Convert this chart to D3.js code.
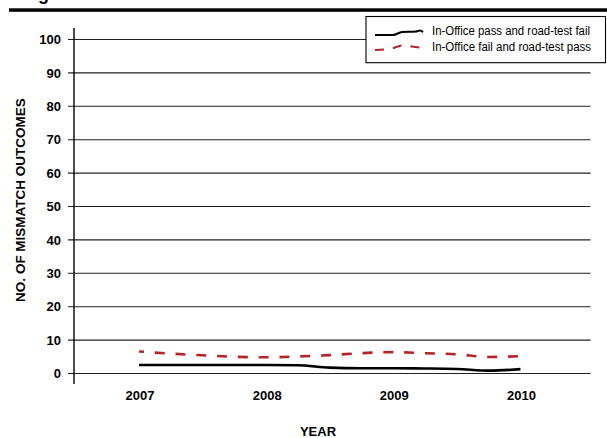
<!DOCTYPE html>
<html>
<head>
<meta charset="utf-8">
<script src="https://cdnjs.cloudflare.com/ajax/libs/d3/7.8.5/d3.min.js"></script>
<style>
    body { margin: 0; background: #fff; }
    text { font-family: "Liberation Sans", Arial, sans-serif; }
</style>
</head>
<body>
<svg width="607" height="438"></svg>
<script>
    // chart data (quarterly points)
    const quarters = [2007, 2007.25, 2007.5, 2007.75, 2008, 2008.25, 2008.5, 2008.75, 2009, 2009.25, 2009.5, 2009.75, 2010];
    const passFail = [2.55, 2.55, 2.55, 2.55, 2.55, 2.45, 1.75, 1.55, 1.55, 1.5, 1.35, 0.85, 1.3];
    const failPass = [6.6, 5.95, 5.45, 5.0, 4.85, 5.1, 5.5, 6.1, 6.4, 6.05, 5.75, 4.95, 5.2];
    const yearTicks = [2007, 2008, 2009, 2010];
    const yTicks = [0, 10, 20, 30, 40, 50, 60, 70, 80, 90, 100];
    const seriesNames = ["In-Office pass and road-test fail", "In-Office fail and road-test pass"];

    const width = 607, height = 438;
    const svg = d3.select("svg");

    let x = d3.scaleLinear().domain([2007, 2010]).range([139, 520.5]);
    let y = d3.scaleLinear().domain([0, 100]).range([373.5, 39.5]);

    // cut-off title above the rule
    svg.append("text").attr("x", 38).attr("y", 0)
        .style("font-size", "18px").style("font-weight", "bold").text("g");

    svg.append("rect").attr("x", 9).attr("y", 8.3).attr("width", width - 9).attr("height", 3.5).attr("fill", "#000");

    // gridlines + ticks
    svg.append("g").selectAll("line").data(yTicks).enter().append("line")
        .attr("x1", 68).attr("x2", 590.5)
        .attr("y1", d => y(d)).attr("y2", d => y(d))
        .attr("stroke", "#222").attr("stroke-width", 1.1);

    svg.append("g").selectAll("text").data(yTicks).enter().append("text")
        .attr("x", 61).attr("y", d => y(d) + 4.6)
        .attr("text-anchor", "end")
        .style("font-size", "13px").style("font-weight", "bold")
        .text(d => d);

    svg.append("line").attr("x1", 74).attr("x2", 74).attr("y1", 28).attr("y2", 384)
        .attr("stroke", "#000").attr("stroke-width", 1.4);

    svg.append("g").selectAll("text").data(yearTicks).enter().append("text")
        .attr("x", d => x(d) + 1).attr("y", 400)
        .attr("text-anchor", "middle")
        .style("font-size", "13px").style("font-weight", "bold")
        .text(d => d);

    // axis titles
    svg.append("text").attr("transform", "translate(25,200) rotate(-90)")
        .attr("text-anchor", "middle")
        .style("font-size", "13.5px").style("font-weight", "bold")
        .text("NO. OF MISMATCH OUTCOMES");

    svg.append("text").attr("x", 318).attr("y", 436)
        .attr("text-anchor", "middle")
        .style("font-size", "13px").style("font-weight", "bold")
        .text("YEAR");

    // series lines
    let line = d3.line()
        .x(d => x(d[0]))
        .y(d => y(d[1]))
        .curve(d3.curveMonotoneX);

    svg.append("path")
        .attr("d", line(d3.zip(quarters, failPass)))
        .attr("fill", "none").attr("stroke", "#b3242b").attr("stroke-width", 2.6)
        .attr("stroke-dasharray", "10,10.8").attr("stroke-dashoffset", 5);

    svg.append("path")
        .attr("d", line(d3.zip(quarters, passFail)))
        .attr("fill", "none").attr("stroke", "#000").attr("stroke-width", 2.6);

    // legend
    let legend = svg.append("g");
    legend.append("rect").attr("x", 366).attr("y", 16.5).attr("width", 239.5).attr("height", 46.2)
        .attr("fill", "#fff").attr("stroke", "#000").attr("stroke-width", 1.1);

    let sample = d3.line().curve(d3.curveMonotoneX);
    legend.append("path")
        .attr("d", sample([[375, 35], [393, 35], [402, 32], [416, 31.5], [420, 30.5], [423, 32]]))
        .attr("fill", "none").attr("stroke", "#000").attr("stroke-width", 2.2);
    legend.append("path")
        .attr("d", sample([[375, 50], [392, 48.5], [402, 45.5], [412, 46.5], [423, 48]]))
        .attr("fill", "none").attr("stroke", "#b3242b").attr("stroke-width", 2.2)
        .attr("stroke-dasharray", "9,9");

    // the original uses a condensed face; squeeze to the same width
    legend.selectAll("text.lab").data(seriesNames).enter().append("text")
        .attr("class", "lab")
        .attr("x", 432).attr("y", (d, i) => 34.5 + i * 16.5)
        .attr("textLength", (d, i) => i ? 159 : 158)
        .attr("lengthAdjust", "spacingAndGlyphs")
        .style("font-size", "12px")
        .text(d => d);
</script>
</body>
</html>
